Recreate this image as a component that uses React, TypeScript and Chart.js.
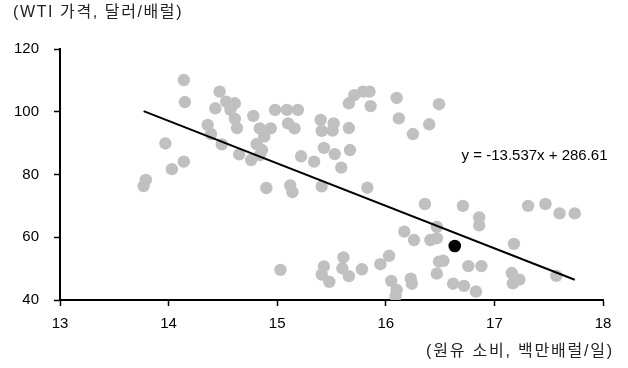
import React, { useEffect, useRef } from "react";
import { Chart, registerables } from "chart.js";

Chart.register(...registerables);

// Crude oil consumption (million barrels/day)
const consumption = [
  13.77, 13.79, 13.97, 14.03, 14.14, 14.14, 14.15, 14.36, 14.39, 14.49,
  14.43, 14.47, 14.53, 14.61, 14.57, 14.61, 14.63, 14.65, 14.76, 14.78,
  14.84, 14.94, 14.88, 14.81, 14.86, 14.84, 14.98, 15.09, 15.19, 15.1,
  15.16, 14.9, 15.12, 15.14, 15.22, 15.34, 15.4, 15.41, 15.51, 15.52,
  15.66, 15.66, 15.71, 15.79, 15.85, 15.86, 16.1, 16.12, 16.25, 16.4,
  16.49, 15.43, 15.53, 15.67, 15.59, 15.41, 15.83, 15.03, 16.36, 16.71,
  16.86, 16.86, 17.31, 17.47, 17.6, 17.74, 17.18, 17.57, 16.17, 16.26,
  16.41, 16.47, 16.47, 16.49, 16.53, 16.47, 16.76, 16.88, 16.62, 16.72,
  16.83, 17.16, 17.17, 17.23, 15.43, 15.41, 15.48, 15.61, 15.6, 15.66,
  15.78, 15.95, 16.03, 16.05, 16.1, 16.09, 16.23, 16.24,
];

// WTI price (USD/barrel)
const wtiPrice = [
  76.3, 78.3, 89.9, 81.7, 84.1, 110.1, 103.1, 95.8, 92.9, 89.6,
  101.1, 106.4, 103.2, 102.7, 100.6, 97.7, 94.8, 86.4, 84.6, 98.7,
  94.7, 94.7, 92.1, 89.7, 87.8, 86.2, 100.6, 100.6, 100.6, 96.3,
  94.7, 75.7, 76.5, 74.4, 85.8, 84.1, 97.4, 93.9, 94.0, 96.3,
  94.8, 102.7, 105.3, 106.4, 106.4, 101.8, 104.4, 97.9, 92.9, 96.0,
  102.4, 88.5, 86.5, 87.8, 82.2, 76.2, 75.8, 49.6, 70.6, 70.0,
  66.3, 63.8, 70.0, 70.6, 67.6, 67.6, 57.9, 47.7, 61.8, 59.1,
  59.1, 59.7, 63.3, 52.2, 52.5, 48.4, 50.8, 50.8, 45.2, 44.5,
  42.7, 48.6, 45.3, 46.5, 50.7, 48.1, 45.8, 53.6, 50.1, 47.6,
  49.8, 51.4, 54.1, 46.1, 43.2, 41.2, 46.8, 45.2,
];

// Latest observation (highlighted)
const latestConsumption = [16.635];
const latestPrice = [57.2];

// Linear trend: y = -13.537x + 286.61
const trendSlope = -13.537;
const trendIntercept = 286.61;
const trendLabel = "y = -13.537x + 286.61";

const xTicks = [13, 14, 15, 16, 17, 18];
const yTicks = [40, 60, 80, 100, 120];

const yAxisTitle = "(WTI 가격, 달러/배럴)";
const xAxisTitle = "(원유 소비, 백만배럴/일)";

const FONT = '"Liberation Sans", Arial, "Noto Sans CJK KR", sans-serif';
const KFONT = '"Liberation Sans", Arial, "Noto Sans CJK KR", sans-serif';

export default function App() {
  const canvasRef = useRef<HTMLCanvasElement | null>(null);

  useEffect(() => {
    const canvas = canvasRef.current;
    if (!canvas) return;

    const minX = Math.min(...consumption);
    const maxX = Math.max(...consumption);
    const trend = [
      { x: minX, y: trendSlope * minX + trendIntercept },
      { x: maxX, y: trendSlope * maxX + trendIntercept },
    ];

    const gray = consumption.map((x, i) => ({ x, y: wtiPrice[i] }));
    const latest = latestConsumption.map((x, i) => ({ x, y: latestPrice[i] }));

    const labelPlugin = {
      id: "trendLabel",
      afterDatasetsDraw(chart: any) {
        const { ctx, scales } = chart;
        const px = scales.x.getPixelForValue(17.37);
        const py = scales.y.getPixelForValue(85.9);
        ctx.save();
        ctx.font = `15px ${FONT}`;
        ctx.fillStyle = "#000";
        ctx.textAlign = "center";
        ctx.textBaseline = "middle";
        ctx.fillText(trendLabel, px, py);
        ctx.restore();
      },
    };

    const chart = new Chart(canvas, {
      type: "scatter",
      data: {
        datasets: [
          {
            label: "trend",
            data: trend,
            showLine: true,
            borderColor: "#000",
            borderWidth: 2,
            pointRadius: 0,
            fill: false,
          },
          {
            label: "latest",
            data: latest,
            backgroundColor: "#000",
            borderWidth: 0,
            pointRadius: 6.3,
          },
          {
            label: "data",
            data: gray,
            backgroundColor: "#C0C0C0",
            borderWidth: 0,
            pointRadius: 6.2,
          },
        ],
      },
      options: {
        responsive: false,
        animation: false,
        layout: { padding: { left: 0, right: 25, top: 49, bottom: 0 } },
        plugins: {
          legend: { display: false },
          tooltip: { enabled: false },
          title: { display: false },
        },
        scales: {
          x: {
            type: "linear",
            min: 13,
            max: 18,
            afterBuildTicks: (scale: any) => {
              scale.ticks = xTicks.map((v) => ({ value: v }));
            },
            afterFit: (scale: any) => {
              scale.height = 68;
            },
            grid: {
              drawOnChartArea: false,
              drawTicks: true,
              tickLength: 6,
              tickWidth: 1.5,
              tickColor: "#000",
            },
            border: { display: true, color: "#000", width: 2 },
            ticks: {
              color: "#000",
              padding: 9,
              font: { family: FONT, size: 15 },
              maxRotation: 0,
            },
          },
          y: {
            type: "linear",
            min: 40,
            max: 120,
            afterBuildTicks: (scale: any) => {
              scale.ticks = yTicks.map((v) => ({ value: v }));
            },
            afterFit: (scale: any) => {
              scale.width = 60;
            },
            grid: {
              drawOnChartArea: false,
              drawTicks: true,
              tickLength: 6,
              tickWidth: 1.5,
              tickColor: "#000",
            },
            border: { display: true, color: "#000", width: 2 },
            ticks: {
              color: "#000",
              padding: 15,
              font: { family: FONT, size: 15 },
            },
          },
        },
      },
      plugins: [labelPlugin],
    });

    return () => chart.destroy();
  }, []);

  return (
    <div
      style={{
        position: "fixed",
        left: 0,
        top: 0,
        width: 628,
        height: 368,
        background: "#fff",
        overflow: "hidden",
      }}
    >
      <canvas
        ref={canvasRef}
        width={628}
        height={368}
        style={{ position: "absolute", left: 0, top: 0, width: 628, height: 368 }}
      />
      <div
        style={{
          position: "absolute",
          left: 13,
          top: 2,
          fontFamily: KFONT,
          fontSize: 16,
          lineHeight: "20px",
          color: "#222",
          whiteSpace: "nowrap",
          letterSpacing: 1.6,
        }}
      >
        {yAxisTitle}
      </div>
      <div
        style={{
          position: "absolute",
          right: 14,
          top: 341,
          fontFamily: KFONT,
          fontSize: 16,
          lineHeight: "20px",
          color: "#222",
          whiteSpace: "nowrap",
          letterSpacing: 1.8,
        }}
      >
        {xAxisTitle}
      </div>
    </div>
  );
}
